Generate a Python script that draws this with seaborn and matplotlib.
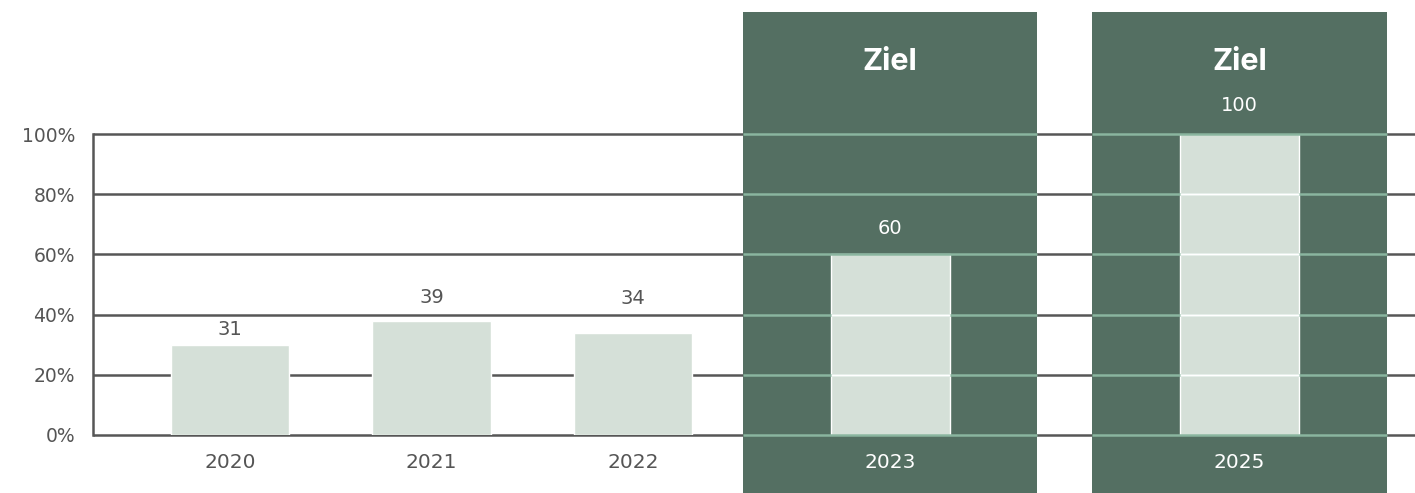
import matplotlib
matplotlib.use("Agg")
import matplotlib.pyplot as plt
from matplotlib.patches import Rectangle
import pandas as pd
import seaborn as sns

# Data
years = ["2020", "2021", "2022", "2023", "2025"]
bar_values = [30, 38, 34, 60, 100]
value_labels = ["31", "39", "34", "60", "100"]
is_goal = [False, False, False, True, True]
goal_text = "Ziel"
y_ticks = [0, 20, 40, 60, 80, 100]

# Layout (x positions of the slots, label gap above bars in points)
x_pos = [0, 1, 2, 3.276, 5.01]
label_pad = [4, 10, 18, 12, 14]

PANEL = "#546f62"
BAR = "#d5e0d8"
GRID = "#565656"
GRID_PANEL = "#8ab59f"
TEXT = "#555555"

sns.set_style("white")
plt.rcParams["font.family"] = ["DejaVu Sans"]

df = pd.DataFrame({"x": x_pos, "value": bar_values})

fig = plt.figure(figsize=(14.15, 4.93), dpi=100)
ax = fig.add_axes([93 / 1415, 58 / 493, 1322 / 1415, 301 / 493])

sns.barplot(data=df, x="x", y="value", native_scale=True, width=0.59,
            color=BAR, saturation=1, edgecolor="white", linewidth=1, ax=ax)

ax.set_xlim(-0.68, 5.881)
ax.set_ylim(0, 100)

bars = list(ax.containers[0])
for b in bars:
    b.set_zorder(3)

# grid lines behind everything
ax.hlines(y_ticks, -0.68, 5.881, color=GRID, lw=1.8, zorder=1, clip_on=False)

half = 0.73
for xp, goal, b in zip(x_pos, is_goal, bars):
    if not goal:
        continue
    ax.add_patch(Rectangle((xp - half, -19.3), 2 * half, 159.8, color=PANEL,
                           lw=0, zorder=2, clip_on=False))
    ax.hlines(y_ticks, xp - half, xp + half, color=GRID_PANEL, lw=1.8,
              zorder=4, clip_on=False)
    ax.hlines([t for t in y_ticks if 0 < t < b.get_height()],
              b.get_x(), b.get_x() + b.get_width(), color="white", lw=1.8, zorder=4)
    ax.text(xp, 124, goal_text, ha="center", va="center", fontsize=22,
            fontweight="bold", color="white", family=["Inter", "DejaVu Sans"],
            zorder=5)

# value labels
for b, lab, pad, goal in zip(bars, value_labels, label_pad, is_goal):
    ax.annotate(lab, (b.get_x() + b.get_width() / 2, b.get_height()),
                xytext=(0, pad), textcoords="offset points", ha="center",
                va="bottom", fontsize=14, color="white" if goal else TEXT, zorder=5)

ax.set_yticks(y_ticks)
ax.set_yticklabels([f"{t}%" for t in y_ticks])
ax.set_xticks(x_pos)
ax.set_xticklabels(years)
for lab, goal in zip(ax.get_xticklabels(), is_goal):
    lab.set_color("white" if goal else TEXT)
    lab.set_zorder(6)
ax.tick_params(axis="y", length=0, pad=13, labelsize=13.5, labelcolor=TEXT)
ax.tick_params(axis="x", length=0, pad=13, labelsize=14.5)
ax.set_xlabel("")
ax.set_ylabel("")

for s in ["top", "right", "bottom"]:
    ax.spines[s].set_visible(False)
ax.spines["left"].set_color(GRID)
ax.spines["left"].set_linewidth(1.8)
ax.set_axisbelow(False)

fig.savefig("out.png", dpi=100)
